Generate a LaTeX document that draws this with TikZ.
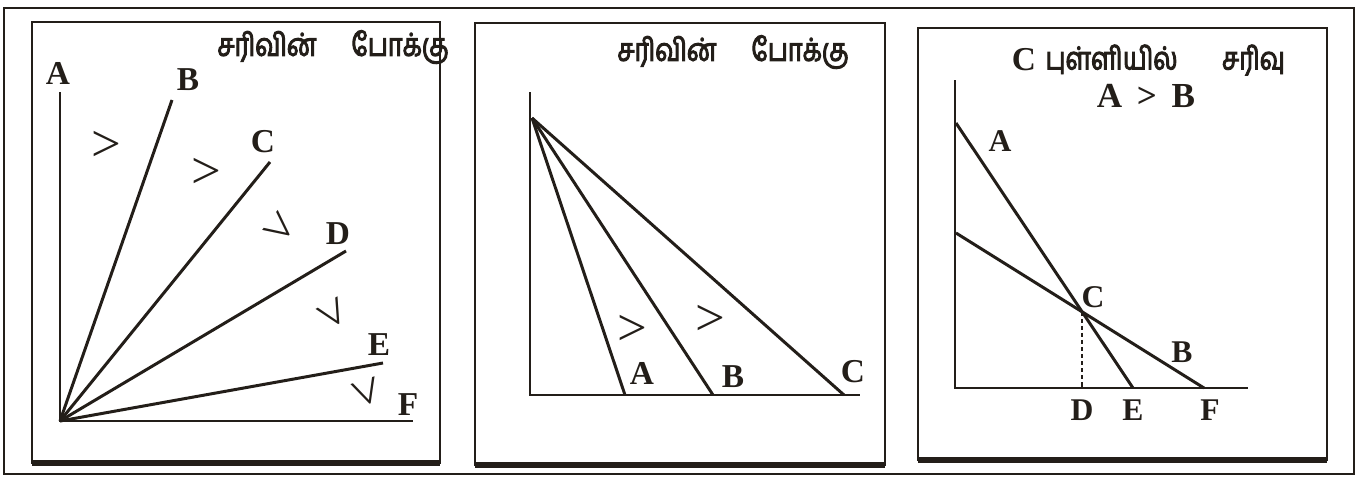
\documentclass[tikz,border=0pt]{standalone}
\usepackage{fontspec}
\setmainfont{Liberation Serif}
\newfontfamily\tamil[Script=Tamil, FakeStretch=0.8, BoldFont=*, BoldFeatures={FakeBold=3}]{Hind Madurai}
\usetikzlibrary{positioning}
\definecolor{ink}{RGB}{35,30,25}

\begin{document}
\begin{tikzpicture}[
    x=0.02cm, y=-0.02cm,
    every node/.style={font=\fontsize{19}{22}\selectfont\bfseries, text=ink, inner sep=0pt},
    small/.style={font=\fontsize{18}{20}\selectfont\bfseries},
    frame/.style={draw=ink, line width=1.1pt},
    base/.style={draw=ink, line width=3pt},
    axis/.style={draw=ink, line width=1.6pt},
    ray/.style={draw=ink, line width=1.7pt},
    gt/.style={font=\fontsize{30}{30}\selectfont},
    title/.style={font=\tamil\fontsize{18}{21}\selectfont\bfseries}
]
    \useasboundingbox (0,0) rectangle (1362,480);

    % --- outer frame ---
    \draw[frame] (4,8) rectangle (1354,474);

    % --- panel 1: rays from the origin ---
    \draw[frame] (32,22) rectangle (440,463);
    \draw[base] (32,463) -- (440,463);
    \node[title] (t1) at (333,47) {சரிவின்\hspace{1.1em}போக்கு};

    \coordinate (O1) at (60,421);
    \coordinate (Y1) at (60,92);
    \coordinate (X1) at (413,421);
    \draw[axis] (Y1) -- (O1) -- (X1);
    \foreach \n/\x/\y in {B/172/100, C/270/162, D/346/251, E/383/363} {
        \coordinate (\n1) at (\x,\y);
        \draw[ray] (O1) -- (\n1);
    }
    \foreach \n/\x/\y in {A/58/73, B/188/80, C/263/142, D/338/234, E/379/345, F/408/405}
        \node (l\n1) at (\x,\y) {\n};
    \foreach \x/\y/\r [count=\i] in {106/146/0, 206/173/0, 279/230/-38, 331/315/-60, 364/393/-72}
        \node[gt, rotate=\r] (g\i) at (\x,\y) {>};

    % --- panel 2: rays from one point on the axis ---
    \draw[frame] (475,23) rectangle (885,465);
    \draw[base] (475,465) -- (885,465);
    \node[title] (t2) at (733,52) {சரிவின்\hspace{1.1em}போக்கு};

    \coordinate (P2) at (532,118);
    \coordinate (Y2) at (530,92);
    \coordinate (O2) at (530,395);
    \coordinate (X2) at (860,395);
    \draw[axis] (Y2) -- (O2) -- (X2);
    \foreach \n/\x in {A/625, B/713, C/844} {
        \coordinate (\n2) at (\x,395);
        \draw[ray] (P2) -- (\n2);
    }
    \foreach \n/\x/\y in {A/642/373, B/733/377, C/853/372}
        \node (l\n2) at (\x,\y) {\n};
    \node[gt] (h1) at (632,330) {>};
    \node[gt] (h2) at (710,320) {>};

    % --- panel 3: slope at point C ---
    \draw[frame] (918,28) rectangle (1327,460);
    \draw[base] (918,460) -- (1327,460);
    \node (t3c) at (1024,60) {C};
    \node[title, right=5pt of t3c.east, anchor=west] (t3) {புள்ளியில்\hspace{1.4em}சரிவு};
    \node[font=\fontsize{20}{22}\selectfont\bfseries] (t3b) at (1146,96) {A\, > \,B};

    \coordinate (Y3) at (955,80);
    \coordinate (O3) at (955,388);
    \coordinate (X3) at (1248,388);
    \draw[axis] (Y3) -- (O3) -- (X3);
    \coordinate (a3) at (956,123);
    \coordinate (e3) at (1133,388);
    \coordinate (b3) at (956,233);
    \coordinate (f3) at (1204,388);
    \draw[ray] (a3) -- (e3);
    \draw[ray] (b3) -- (f3);
    \coordinate (c3) at (intersection of a3--e3 and b3--f3);
    \coordinate (d3) at (c3 |- O3);
    \draw[ink, line width=1.3pt, dash pattern=on 2.5pt off 1.5pt] (c3) -- (d3);
    \node[small] (lA3) at (1000,141) {A};
    \node[small] (lC3) at (1093,297) {C};
    \node[small] (lB3) at (1182,352) {B};
    \node[small] (lD3) at (1082,410) {D};
    \node[small] (lE3) at (1133,410) {E};
    \node[small] (lF3) at (1210,410) {F};

\end{tikzpicture}
\end{document}
